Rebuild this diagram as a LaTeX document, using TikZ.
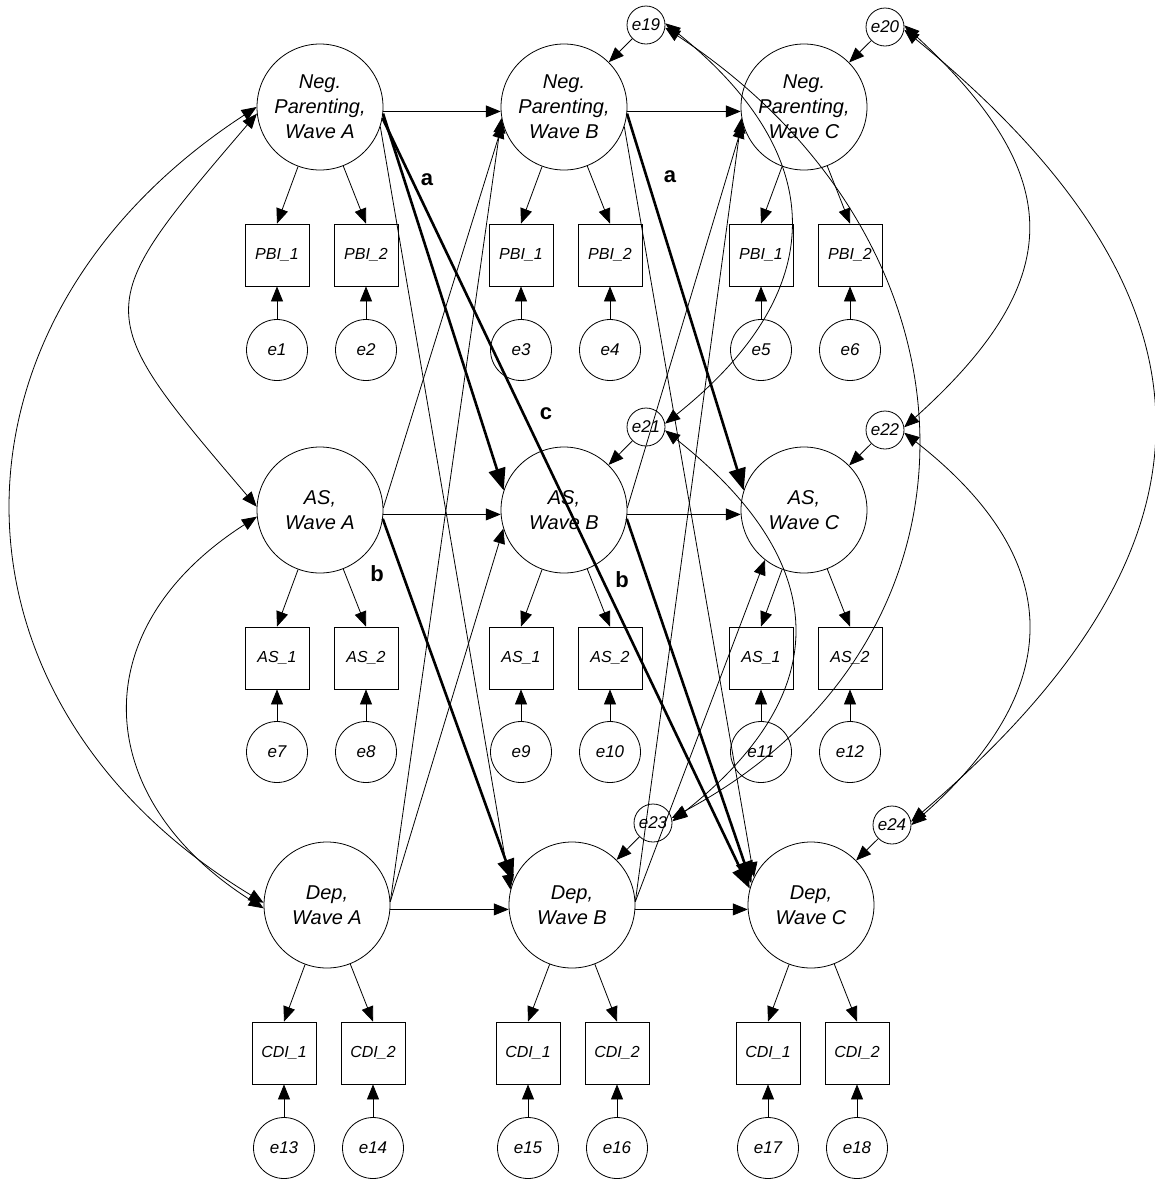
\documentclass[tikz,border=0pt]{standalone}
\usepackage{fontspec}
\setmainfont{Liberation Sans}
\usetikzlibrary{arrows.meta}
\begin{document}
\begin{tikzpicture}[x=1pt,y=-1pt,
  lat/.style={circle,draw,line width=0.8pt,minimum size=126pt,inner sep=0pt,align=center,font=\fontsize{20}{25}\selectfont\itshape},
  obs/.style={rectangle,draw,line width=0.8pt,minimum width=64pt,minimum height=62pt,inner sep=0pt,font=\fontsize{16}{19}\selectfont\itshape},
  err/.style={circle,draw,line width=0.8pt,minimum size=61pt,inner sep=0pt,font=\fontsize{17}{20}\selectfont\itshape},
  res/.style={circle,draw,line width=0.8pt,minimum size=38pt,inner sep=0pt,font=\fontsize{17}{20}\selectfont\itshape},
  reg/.style={line width=0.8pt,-{Triangle[length=15pt,width=12pt]}},
  regbold/.style={line width=2.6pt,-{Triangle[length=22pt,width=17pt]}},
  cov/.style={line width=0.8pt,{Triangle[length=15pt,width=12pt]}-{Triangle[length=15pt,width=12pt]}},
  lbl/.style={font=\fontsize{22}{26}\selectfont\bfseries},
]
\useasboundingbox (0,0) rectangle (1155,1179);

% latent variables
\node[lat] (npA) at (320,107) {Neg.\\Parenting,\\Wave A};
\node[lat] (npB) at (564,107) {Neg.\\Parenting,\\Wave B};
\node[lat] (npC) at (804,107) {Neg.\\Parenting,\\Wave C};
\node[lat] (asA) at (320,510) {AS,\\Wave A};
\node[lat] (asB) at (564,510) {AS,\\Wave B};
\node[lat] (asC) at (804,510) {AS,\\Wave C};
\node[lat] (depA) at (327,905) {Dep,\\Wave A};
\node[lat] (depB) at (572,905) {Dep,\\Wave B};
\node[lat] (depC) at (811,905) {Dep,\\Wave C};

% indicators
\node[obs] (pA1) at (277,255) {PBI\_1};
\node[obs] (pA2) at (366,255) {PBI\_2};
\node[obs] (pB1) at (521,255) {PBI\_1};
\node[obs] (pB2) at (610,255) {PBI\_2};
\node[obs] (pC1) at (761,255) {PBI\_1};
\node[obs] (pC2) at (850,255) {PBI\_2};
\node[obs] (aA1) at (277,658) {AS\_1};
\node[obs] (aA2) at (366,658) {AS\_2};
\node[obs] (aB1) at (521,658) {AS\_1};
\node[obs] (aB2) at (610,658) {AS\_2};
\node[obs] (aC1) at (761,658) {AS\_1};
\node[obs] (aC2) at (850,658) {AS\_2};
\node[obs] (dA1) at (284,1053) {CDI\_1};
\node[obs] (dA2) at (373,1053) {CDI\_2};
\node[obs] (dB1) at (528,1053) {CDI\_1};
\node[obs] (dB2) at (617,1053) {CDI\_2};
\node[obs] (dC1) at (768,1053) {CDI\_1};
\node[obs] (dC2) at (857,1053) {CDI\_2};

% measurement errors
\node[err] (e1) at (277,350) {e1};
\node[err] (e2) at (366,350) {e2};
\node[err] (e3) at (521,350) {e3};
\node[err] (e4) at (610,350) {e4};
\node[err] (e5) at (761,350) {e5};
\node[err] (e6) at (850,350) {e6};
\node[err] (e7) at (277,752) {e7};
\node[err] (e8) at (366,752) {e8};
\node[err] (e9) at (521,752) {e9};
\node[err] (e10) at (610,752) {e10};
\node[err] (e11) at (761,752) {e11};
\node[err] (e12) at (850,752) {e12};
\node[err] (e13) at (284,1148) {e13};
\node[err] (e14) at (373,1148) {e14};
\node[err] (e15) at (528,1148) {e15};
\node[err] (e16) at (617,1148) {e16};
\node[err] (e17) at (768,1148) {e17};
\node[err] (e18) at (857,1148) {e18};

% residuals
\node[res] (e19) at (646,25) {e19};
\node[res] (e20) at (885,27) {e20};
\node[res] (e21) at (646,427) {e21};
\node[res] (e22) at (885,430) {e22};
\node[res] (e23) at (653,823) {e23};
\node[res] (e24) at (892,825) {e24};

% loadings and errors
\foreach \l/\b in {npA/pA1,npA/pA2,npB/pB1,npB/pB2,npC/pC1,npC/pC2,
                   asA/aA1,asA/aA2,asB/aB1,asB/aB2,asC/aC1,asC/aC2,
                   depA/dA1,depA/dA2,depB/dB1,depB/dB2,depC/dC1,depC/dC2}
  \draw[reg] (\l) -- (\b.north);
\foreach \e/\b in {e1/pA1,e2/pA2,e3/pB1,e4/pB2,e5/pC1,e6/pC2,
                   e7/aA1,e8/aA2,e9/aB1,e10/aB2,e11/aC1,e12/aC2,
                   e13/dA1,e14/dA2,e15/dB1,e16/dB2,e17/dC1,e18/dC2}
  \draw[reg] (\e) -- (\b);

% residual arrows
\draw[reg] (e19) -- (npB);
\draw[reg] (e20) -- (npC);
\draw[reg] (e21) -- (asB);
\draw[reg] (e22) -- (asC);
\draw[reg] (e23) -- (depB);
\draw[reg] (e24) -- (depC);

% autoregressive paths
\draw[reg] (npA.-4) -- (npB.184);
\draw[reg] (npB.-4) -- (npC.184);
\draw[reg] (asA.-4) -- (asB.184);
\draw[reg] (asB.-4) -- (asC.184);
\draw[reg] (depA.-4) -- (depB.184);
\draw[reg] (depB.-4) -- (depC.184);

% cross-lagged paths
\draw[regbold] (npA.-6) -- (asB.162);
\draw[regbold] (npA.-10) -- (depC.165);
\draw[reg] (npA.-18) -- (depB.166);
\draw[reg] (asA.2) -- (npB.195);
\draw[regbold] (asA.-8) -- (depB.158);
\draw[reg] (depA.3) -- (npB.190);
\draw[reg] (depA.3) -- (asB.197);
\draw[regbold] (npB.-6) -- (asC.162);
\draw[reg] (npB.-18) -- (depC.154);
\draw[reg] (asB.2) -- (npC.195);
\draw[regbold] (asB.-8) -- (depC.160);
\draw[reg] (depB.3) -- (npC.190);
\draw[reg] (depB.3) -- (asC.232);

% exogenous covariances
\draw[cov] (npA.186) .. controls (89,310) and (89,310) .. (asA.177);
\draw[cov] (npA.180) .. controls (-70,320) and (-71,700) .. (depA.178);
\draw[cov] (asA.186) .. controls (80,630) and (92,800) .. (depA.183);

% residual covariances
\draw[cov] (e19.5) .. controls (831,156) and (831,291) .. (e21.10);
\draw[cov] (e19.-8) .. controls (996,245) and (1003,641) .. (e23.15);
\draw[cov] (e20.5) .. controls (1068,176) and (1068,280) .. (e22.8);
\draw[cov] (e20.-8) .. controls (1235,300) and (1235,545) .. (e24.10);
\draw[cov] (e21.-10) .. controls (831,562) and (838,691) .. (e23.5);
\draw[cov] (e22.-8) .. controls (1067,560) and (1067,688) .. (e24.0);

% path labels
\node[lbl] (la1) at (427,180) {a};
\node[lbl] (la2) at (670,177) {a};
\node[lbl] (lc) at (546,414) {c};
\node[lbl] (lb1) at (377,574) {b};
\node[lbl] (lb2) at (622,580) {b};
\end{tikzpicture}
\end{document}
